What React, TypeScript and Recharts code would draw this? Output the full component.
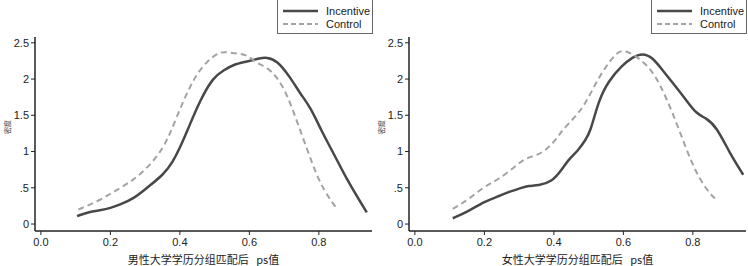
import { LineChart, Line, XAxis, YAxis, Label } from 'recharts';

// ps-value density curves
const maleIncentiveX = [0.104, 0.132, 0.171, 0.2, 0.228, 0.267, 0.305, 0.353, 0.38, 0.4, 0.42, 0.458, 0.497, 0.526, 0.554, 0.593, 0.631, 0.65, 0.679, 0.717, 0.746, 0.775, 0.809, 0.842, 0.881, 0.919, 0.938];
const maleIncentiveY = [0.11, 0.16, 0.19, 0.22, 0.27, 0.35, 0.5, 0.68, 0.86, 1.05, 1.27, 1.71, 2.03, 2.12, 2.2, 2.24, 2.29, 2.3, 2.26, 2.03, 1.8, 1.62, 1.27, 0.98, 0.61, 0.31, 0.16];
const maleControlX = [0.108, 0.171, 0.219, 0.267, 0.305, 0.343, 0.372, 0.41, 0.449, 0.478, 0.506, 0.526, 0.564, 0.593, 0.622, 0.65, 0.679, 0.708, 0.746, 0.784, 0.813, 0.852];
const maleControlY = [0.2, 0.33, 0.47, 0.61, 0.77, 0.98, 1.24, 1.71, 2.08, 2.24, 2.35, 2.38, 2.35, 2.34, 2.21, 2.17, 2.03, 1.8, 1.3, 0.79, 0.47, 0.21];

const femaleIncentiveX = [0.109, 0.152, 0.2, 0.239, 0.268, 0.307, 0.326, 0.355, 0.394, 0.423, 0.442, 0.471, 0.491, 0.505, 0.529, 0.558, 0.597, 0.626, 0.655, 0.684, 0.713, 0.752, 0.781, 0.81, 0.839, 0.868, 0.906, 0.945];
const femaleIncentiveY = [0.08, 0.17, 0.31, 0.38, 0.44, 0.5, 0.53, 0.53, 0.58, 0.75, 0.89, 1.02, 1.16, 1.27, 1.71, 1.98, 2.19, 2.3, 2.36, 2.3, 2.12, 1.89, 1.71, 1.52, 1.46, 1.34, 0.98, 0.68];
const femaleControlX = [0.109, 0.152, 0.2, 0.239, 0.288, 0.317, 0.355, 0.384, 0.409, 0.423, 0.462, 0.491, 0.52, 0.549, 0.578, 0.597, 0.626, 0.665, 0.694, 0.723, 0.761, 0.8, 0.839, 0.868];
const femaleControlY = [0.21, 0.33, 0.52, 0.61, 0.79, 0.91, 0.95, 1.05, 1.18, 1.29, 1.48, 1.66, 1.94, 2.17, 2.35, 2.4, 2.35, 2.21, 2.03, 1.75, 1.3, 0.79, 0.47, 0.33];

const xTicks = [0, 0.2, 0.4, 0.6, 0.8];
const yTicks = [0, 0.5, 1, 1.5, 2, 2.5];
const seriesNames = ['Incentive', 'Control'];
const panelTitles = ['男性大学学历分组匹配后\u00a0\u00a0\u00a0ps值', '女性大学学历分组匹配后\u00a0\u00a0\u00a0ps值'];
const yTitle = '密度';

const zip = (xs: number[], ys: number[]) => xs.map((x, i) => ({ x, y: ys[i] }));

const fmtY = (v: number) => (v === 0 ? '0' : v === 0.5 ? '.5' : String(v));
const FONT = '"Liberation Sans", Arial, sans-serif';
const INC = '#484848';
const CTL = '#a3a3a3';

const LegendBox = () => (
    <div style={{ position: 'absolute', left: 277, top: -1, width: 94, height: 33, border: '1px solid #666', background: '#fff' }}>
        <svg width={94} height={33} style={{ position: 'absolute', left: 0, top: 0 }}>
            <line x1={5} x2={40} y1={11} y2={11} stroke={INC} strokeWidth={2.5} />
            <line x1={5} x2={40} y1={24} y2={24} stroke={CTL} strokeWidth={2} strokeDasharray="5 3" />
            <text x={48} y={15} fontSize={11} fontFamily={FONT} fill="#222">{seriesNames[0]}</text>
            <text x={48} y={28} fontSize={11} fontFamily={FONT} fill="#222">{seriesNames[1]}</text>
        </svg>
    </div>
);

const Panel = ({ inc, ctl, title }: { inc: { x: number, y: number }[], ctl: { x: number, y: number }[], title: string }) => (
    <div style={{ position: 'relative', width: 374, height: 266 }}>
        <LineChart width={374} height={266} margin={{ top: 37, right: 2, bottom: 0, left: 0 }}>
            <XAxis
                type="number"
                dataKey="x"
                domain={[-0.017, 0.953]}
                ticks={xTicks}
                allowDataOverflow
                tickFormatter={(v: number) => v.toFixed(1)}
                tick={{ fontSize: 11, fill: '#222', fontFamily: FONT }}
                tickSize={4}
                tickMargin={3}
                axisLine={{ stroke: '#222', strokeWidth: 1.5 }}
                tickLine={{ stroke: '#222' }}
                height={35}
            >
                <Label value={title} position="insideBottom" offset={2} style={{ fontSize: 11, fill: '#222', fontFamily: '"Noto Sans CJK SC", sans-serif' }} />
            </XAxis>
            <XAxis xAxisId="top" type="number" orientation="top" domain={[-0.017, 0.953]} tick={false} tickLine={false} height={0} axisLine={{ stroke: '#aaa' }} />
            <YAxis
                type="number"
                dataKey="y"
                domain={[-0.096, 2.58]}
                ticks={yTicks}
                allowDataOverflow
                tickFormatter={fmtY}
                tick={{ fontSize: 11, fill: '#222', fontFamily: FONT }}
                tickSize={4}
                tickMargin={2}
                axisLine={{ stroke: '#222', strokeWidth: 1.5 }}
                tickLine={{ stroke: '#222' }}
                width={35}
            >
                <Label value={yTitle} angle={-90} position="insideLeft" offset={8} style={{ fontSize: 7, fill: '#444', fontFamily: '"Noto Sans CJK SC", sans-serif' }} />
            </YAxis>
            <YAxis yAxisId="right" orientation="right" domain={[0, 1]} tick={false} tickLine={false} width={0} axisLine={{ stroke: '#aaa' }} />
            <Line data={inc} dataKey="y" type="basis" stroke={INC} strokeWidth={2.5} dot={false} isAnimationActive={false} />
            <Line data={ctl} dataKey="y" type="basis" stroke={CTL} strokeWidth={2} strokeDasharray="6 4" dot={false} isAnimationActive={false} />
        </LineChart>
        <LegendBox />
    </div>
);

const App = () => (
    <div style={{ position: 'absolute', left: 0, top: 0, width: 748, height: 266, display: 'flex', background: '#fff' }}>
        <Panel inc={zip(maleIncentiveX, maleIncentiveY)} ctl={zip(maleControlX, maleControlY)} title={panelTitles[0]} />
        <Panel inc={zip(femaleIncentiveX, femaleIncentiveY)} ctl={zip(femaleControlX, femaleControlY)} title={panelTitles[1]} />
    </div>
);

export default App;
